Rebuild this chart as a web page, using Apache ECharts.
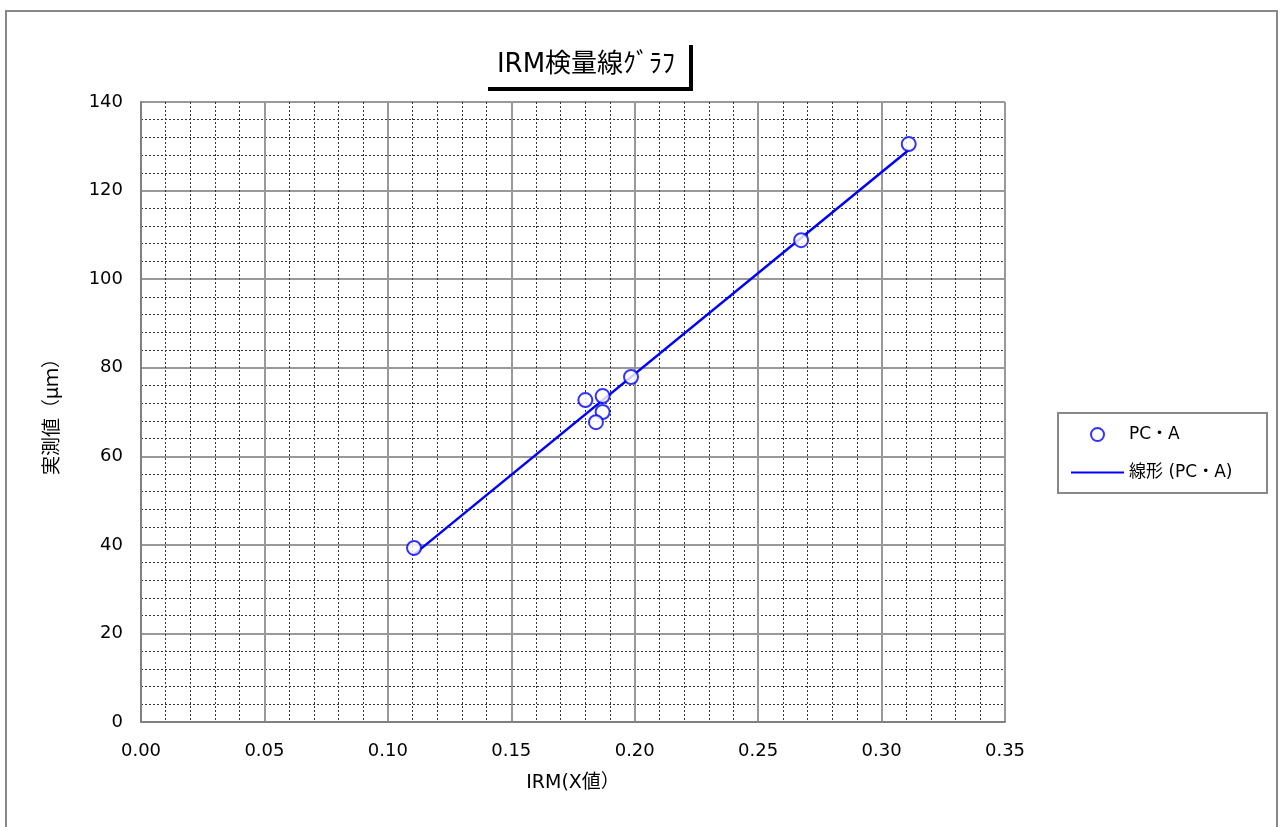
<!DOCTYPE html>
<html>
<head>
<meta charset="utf-8">
<script src="https://cdn.jsdelivr.net/npm/echarts@6/dist/echarts.min.js"></script>
<style>
html,body{margin:0;padding:0;background:#fff;}
#chart{width:1280px;height:827px;}
</style>
</head>
<body>
<div id="chart"></div>
<script>
const titleText = 'IRM検量線ｸﾞﾗﾌ';
const xAxisName = 'IRM(X値）';
const yAxisName = '実測値（μｍ）';
const seriesName = 'PC・A';
const trendName = '線形 (PC・A)';
const irmX = [0.1106, 0.1800, 0.1870, 0.1870, 0.1843, 0.1985, 0.2674, 0.3110];
const measuredY = [39.3, 72.7, 73.6, 70.0, 67.7, 77.9, 108.8, 130.5];
const xTicks = [0, 0.35, 0.05];
const yTicks = [0, 140, 20];

// linear trendline (least squares) from the data
const n = irmX.length;
const mx = irmX.reduce((a, b) => a + b, 0) / n;
const my = measuredY.reduce((a, b) => a + b, 0) / n;
let sxy = 0, sxx = 0;
for (let i = 0; i < n; i++) { sxy += (irmX[i] - mx) * (measuredY[i] - my); sxx += (irmX[i] - mx) ** 2; }
const slope = sxy / sxx, intercept = my - slope * mx;
const xmin = Math.min(...irmX), xmax = Math.max(...irmX);
const trendData = [[xmin, intercept + slope * xmin], [xmax, intercept + slope * xmax]];
const pts = irmX.map((x, i) => [x, measuredY[i]]);

const FONT = "'DejaVu Sans','Noto Sans CJK JP',sans-serif";
const chart = echarts.init(document.getElementById('chart'), null, {renderer: 'canvas'});
chart.setOption({
  animation: false,
  backgroundColor: '#fff',
  grid: {left: 141, right: 275, top: 102, bottom: 105, containLabel: false},
  xAxis: {
    type: 'value', min: xTicks[0], max: xTicks[1], interval: xTicks[2],
    name: xAxisName, nameLocation: 'middle', nameGap: 52,
    nameTextStyle: {fontFamily: FONT, fontSize: 19, color: '#000'},
    axisLine: {show: true, onZero: false, lineStyle: {color: '#808080', width: 2}},
    axisTick: {show: false},
    axisLabel: {fontFamily: FONT, fontSize: 18, color: '#000', margin: 20, formatter: v => v.toFixed(2)},
    splitLine: {show: true, lineStyle: {color: '#999', width: 2}},
    minorTick: {show: false, splitNumber: 5},
    minorSplitLine: {show: true, lineStyle: {color: '#333', width: 1, type: [2, 2]}}
  },
  yAxis: {
    type: 'value', min: yTicks[0], max: yTicks[1], interval: yTicks[2],
    name: yAxisName, nameLocation: 'middle', nameGap: 78, nameRotate: 90,
    nameTextStyle: {fontFamily: FONT, fontSize: 19, color: '#000'},
    axisLine: {show: true, onZero: false, lineStyle: {color: '#808080', width: 2}},
    axisTick: {show: false},
    axisLabel: {fontFamily: FONT, fontSize: 18, color: '#000', margin: 18},
    splitLine: {show: true, lineStyle: {color: '#999', width: 2}},
    minorTick: {show: false, splitNumber: 5},
    minorSplitLine: {show: true, lineStyle: {color: '#333', width: 1, type: [2, 2]}}
  },
  legend: [
    {
      data: [seriesName], left: 1090, top: 426, orient: 'vertical', padding: 0,
      itemWidth: 53, itemHeight: 13, selectedMode: false,
      textStyle: {fontFamily: FONT, fontSize: 17, color: '#000'}
    },
    {
      data: [trendName], left: 1070, top: 464, orient: 'vertical', padding: 0,
      itemWidth: 53, itemHeight: 14, selectedMode: false,
      itemStyle: {opacity: 0},
      textStyle: {fontFamily: FONT, fontSize: 17, color: '#000'}
    }
  ],
  graphic: [
    {type: 'rect', shape: {x: 6, y: 11, width: 1271, height: 840}, style: {fill: 'none', stroke: '#888', lineWidth: 2}, z: 0},
    {type: 'rect', shape: {x: 488, y: 45, width: 205, height: 46}, style: {fill: '#000'}, z: 10},
    {type: 'rect', shape: {x: 484, y: 41, width: 205, height: 46}, style: {fill: '#fff'}, z: 11},
    {type: 'text', x: 586, y: 65, z: 12, style: {text: titleText, fontFamily: FONT, fontSize: 26, fill: '#000', align: 'center', verticalAlign: 'middle'}},
    {type: 'rect', shape: {x: 1058, y: 413, width: 209, height: 80}, style: {fill: 'none', stroke: '#888', lineWidth: 2}, z: 10}
  ],
  series: [
    {
      name: trendName, type: 'line', data: trendData, showSymbol: false, symbol: 'none',
      lineStyle: {color: '#0000ff', width: 2.5}, itemStyle: {color: '#0000ff'}, z: 2, silent: true
    },
    {
      name: seriesName, type: 'scatter', data: pts, symbol: 'circle', symbolSize: 14,
      itemStyle: {color: '#fff', borderColor: '#0000ff', borderWidth: 2}, z: 3
    }
  ]
});
</script>
</body>
</html>
